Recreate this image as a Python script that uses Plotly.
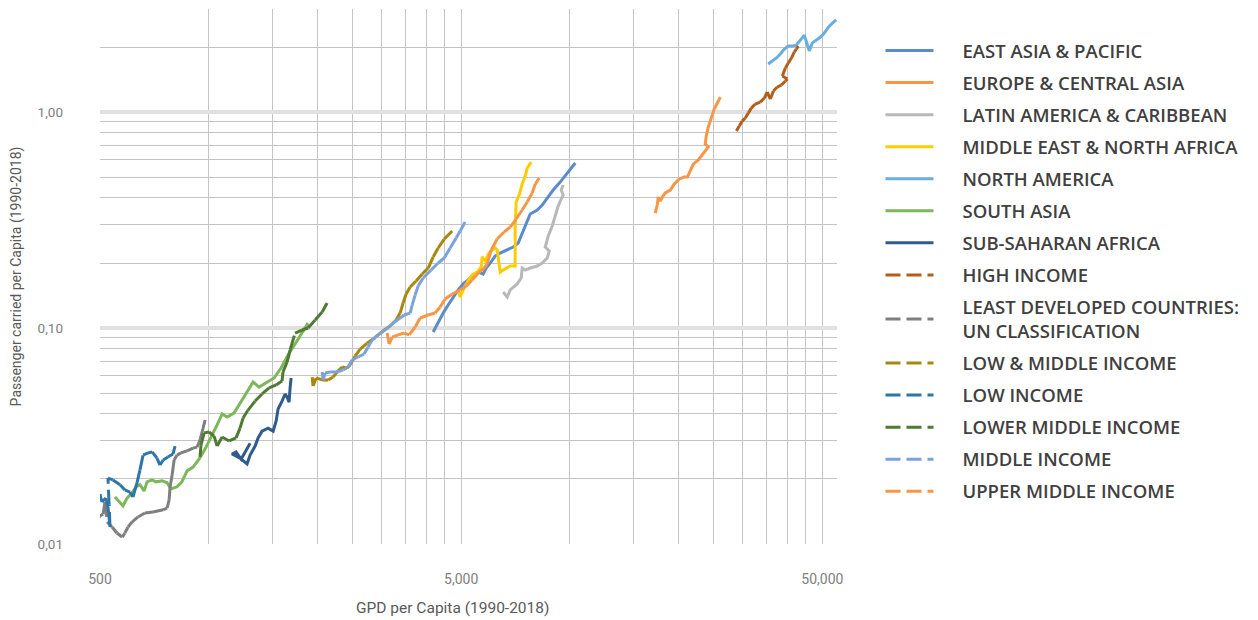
import math
import plotly.graph_objects as go

# ---------------- data ----------------
NAMES = [
    "EAST ASIA & PACIFIC", "EUROPE & CENTRAL ASIA", "LATIN AMERICA & CARIBBEAN",
    "MIDDLE EAST & NORTH AFRICA", "NORTH AMERICA", "SOUTH ASIA", "SUB-SAHARAN AFRICA",
    "HIGH INCOME", "LEAST DEVELOPED COUNTRIES:<br>UN CLASSIFICATION", "LOW & MIDDLE INCOME",
    "LOW INCOME", "LOWER MIDDLE INCOME", "MIDDLE INCOME", "UPPER MIDDLE INCOME",
]
COLORS = ["#5B8BCB", "#F79646", "#B8B8B8", "#FFCC00", "#6AAEE0", "#7DB75B", "#2F5B8F",
          "#B05E1A", "#7F7F7F", "#A8870E", "#2E75A8", "#4E7A33", "#7BA2DA", "#F79646"]
DASHED = [False] * 7 + [True] * 7

EAP_X = [4182, 4318, 4459, 4602, 4751, 4905, 5064, 5228, 5398, 5573, 5753, 5865, 6016, 6211,
         6412, 6705, 6966, 7192, 7378, 7568, 7765, 8120, 8384, 8655, 8991, 9400, 9830, 10350]
EAP_Y = [0.0958, 0.1066, 0.1173, 0.1278, 0.1391, 0.150, 0.160, 0.1668, 0.176, 0.1816, 0.1778,
         0.1896, 0.200, 0.2154, 0.2224, 0.2297, 0.2371, 0.2474, 0.2754, 0.3062, 0.3372, 0.3518,
         0.371, 0.3996, 0.4355, 0.474, 0.522, 0.5806]

ECA_X = [17230, 17450, 17570, 17800, 18030, 18370, 18970, 19450, 20090, 20740, 21150, 21550,
         21960, 22680, 23400, 24160, 23700, 23850, 24160, 24620, 25100, 25600, 26100]
ECA_Y = [0.3405, 0.371, 0.404, 0.387, 0.404, 0.422, 0.435, 0.464, 0.490, 0.500, 0.500, 0.539,
         0.574, 0.600, 0.639, 0.689, 0.711, 0.774, 0.852, 0.948, 1.032, 1.101, 1.173]

LAC_X = [6536, 6705, 6836, 7010, 7145, 7330, 7378, 7520, 7765, 8120, 8384, 8655, 8766, 8545,
         8710, 8935, 9106, 9280, 9461, 9582, 9461, 9582]
LAC_Y = [0.1468, 0.1391, 0.150, 0.1548, 0.160, 0.1704, 0.1896, 0.1856, 0.1896, 0.1936, 0.200,
         0.2109, 0.2272, 0.2371, 0.2667, 0.2966, 0.330, 0.367, 0.3956, 0.4127, 0.4355, 0.4593]

MENA_X = [4905, 4968, 5064, 5161, 5260, 5364, 5538, 5680, 5717, 5830, 5942, 6094, 6211, 6290,
          6412, 6536, 6705, 6836, 7055, 7055, 7055, 7100, 7238, 7378, 7520, 7617, 7815]
MENA_Y = [0.150, 0.1391, 0.150, 0.160, 0.1686, 0.176, 0.1816, 0.1916, 0.2132, 0.2043, 0.2201,
          0.2297, 0.2346, 0.2297, 0.1816, 0.1856, 0.1896, 0.1936, 0.1936, 0.2297, 0.2903, 0.383,
          0.4127, 0.464, 0.5055, 0.5504, 0.5867]

NA_X = [35400, 36350, 37300, 38250, 39240, 40250, 41300, 42360, 43450, 44570, 45400, 46000,
        46900, 48100, 49350, 50650, 51950, 53300, 54650]
NA_Y = [1.67, 1.72, 1.78, 1.856, 1.957, 2.02, 2.02, 2.04, 2.15, 2.27, 2.06, 1.92, 2.09, 2.15,
        2.22, 2.32, 2.47, 2.58, 2.67]

SA_X = [550, 579, 594, 613, 629, 645, 662, 675, 697, 715, 743, 767, 786, 817, 843, 871, 905,
        940, 977, 1021, 1055, 1089, 1124, 1175, 1237, 1285, 1327, 1378, 1451, 1517, 1586, 1658,
        1734, 1813, 1884]
SA_Y = [0.0165, 0.0150, 0.0163, 0.0172, 0.0184, 0.0188, 0.0176, 0.0194, 0.0198, 0.0194, 0.0196,
        0.0192, 0.0180, 0.0184, 0.0194, 0.0218, 0.0227, 0.0247, 0.0275, 0.0316, 0.0356, 0.0400,
        0.0387, 0.0404, 0.0464, 0.0516, 0.0562, 0.0533, 0.0562, 0.0587, 0.0653, 0.0750, 0.0843,
        0.0948, 0.1054]

SSA_X = [1302, 1261, 1229, 1190, 1160, 1221, 1277, 1302, 1344, 1370, 1405, 1460, 1508, 1537,
         1556, 1596, 1627, 1648, 1669, 1680, 1691]
SSA_Y = [0.0293, 0.0267, 0.0247, 0.0267, 0.0261, 0.0250, 0.0235, 0.0258, 0.0284, 0.0310, 0.0333,
         0.0344, 0.0333, 0.0371, 0.0422, 0.0459, 0.0495, 0.0479, 0.0454, 0.0528, 0.0587]

HI_X = [28900, 29450, 30000, 30600, 31200, 31800, 32600, 33650, 34550, 35200, 35900, 36600,
        37500, 38500, 39500, 40000, 38750, 39500, 40250, 41050, 41800, 42350, 42900]
HI_Y = [0.817, 0.861, 0.908, 0.938, 0.989, 1.043, 1.089, 1.112, 1.161, 1.238, 1.149, 1.251,
        1.305, 1.334, 1.391, 1.422, 1.468, 1.598, 1.686, 1.778, 1.896, 1.957, 2.02]

LDC_X = [469, 478, 490, 500, 510, 516, 523, 540, 557, 576, 586, 598, 613, 637, 666, 701, 748,
         767, 777, 781, 792, 802, 817, 838, 871, 905, 928, 946, 959, 977]
LDC_Y = [0.01406, 0.01334, 0.01292, 0.01348, 0.01377, 0.01565, 0.01264, 0.01199, 0.01124,
         0.01077, 0.01124, 0.01199, 0.01264, 0.01334, 0.01391, 0.01406, 0.0144, 0.01468, 0.0160,
         0.01816, 0.0209, 0.0245, 0.0258, 0.0264, 0.0270, 0.0278, 0.0281, 0.0303, 0.0330, 0.0375]

LMY_X = [1934, 1945, 1983, 2074, 2141, 2210, 2282, 2341, 2417, 2464, 2543, 2626, 2746, 2852,
         2945, 3061, 3180, 3303, 3388, 3453, 3520, 3612, 3752, 3899, 4051, 4182, 4318, 4487, 4722]
LMY_Y = [0.0593, 0.0539, 0.0587, 0.0574, 0.0574, 0.0593, 0.0633, 0.0660, 0.0653, 0.0675, 0.0742,
         0.0799, 0.0852, 0.0889, 0.0929, 0.0979, 0.1022, 0.1090, 0.1173, 0.1305, 0.1437, 0.1548,
         0.1651, 0.1778, 0.1896, 0.2132, 0.2346, 0.2582, 0.2812]

LI_X = [500, 506, 519, 526, 533, 530, 526, 543, 568, 586, 605, 617, 633, 645, 658, 679, 697, 719,
        733, 748, 771, 796, 807]
LI_Y = [0.01704, 0.01565, 0.01633, 0.01484, 0.01199, 0.0152, 0.0202, 0.0198, 0.0188, 0.0178,
        0.0174, 0.0165, 0.0192, 0.0220, 0.0258, 0.0264, 0.0267, 0.0250, 0.0232, 0.0245, 0.0253,
        0.0261, 0.0284]

LWM_X = [946, 952, 971, 1002, 1035, 1055, 1089, 1139, 1190, 1221, 1245, 1285, 1344, 1405, 1470,
         1537, 1596, 1606, 1648, 1680, 1734, 1813, 1884, 1971, 2061, 2127]
LWM_Y = [0.0253, 0.0287, 0.0327, 0.0330, 0.0316, 0.0284, 0.0313, 0.0300, 0.0310, 0.0344, 0.0383,
         0.0417, 0.0459, 0.0495, 0.0528, 0.0545, 0.0568, 0.0626, 0.0696, 0.0791, 0.0948, 0.0979,
         0.1000, 0.1090, 0.1186, 0.1305]

MI_X = [2061, 2074, 2100, 2168, 2268, 2356, 2432, 2495, 2592, 2693, 2763, 2835, 2945, 3099, 3241,
        3388, 3476, 3612, 3658, 3729, 3800, 3924, 4129, 4318, 4487, 4661, 4843, 4968, 5128]
MI_Y = [0.0626, 0.0574, 0.0619, 0.0626, 0.0626, 0.0640, 0.0660, 0.0711, 0.0734, 0.0758, 0.0817,
        0.0880, 0.0929, 0.0989, 0.1054, 0.1112, 0.1149, 0.1173, 0.1278, 0.1421, 0.1564, 0.1704,
        0.1856, 0.2000, 0.2109, 0.2346, 0.2611, 0.2812, 0.3095]

UMI_X = [3119, 3159, 3220, 3345, 3476, 3589, 3729, 3850, 4051, 4236, 4373, 4515, 4722, 4968, 5161,
         5364, 5573, 5790, 5902, 6055, 6290, 6576, 6836, 7100, 7378, 7617, 7865, 8017, 8225]
UMI_Y = [0.0948, 0.0843, 0.0908, 0.0929, 0.0948, 0.0929, 0.1011, 0.1112, 0.1149, 0.1173, 0.1251,
         0.1362, 0.1437, 0.1500, 0.1564, 0.1668, 0.1798, 0.1896, 0.1978, 0.2297, 0.2582, 0.2783,
         0.2935, 0.3196, 0.3518, 0.3830, 0.4217, 0.4640, 0.4950]

SERIES_X = [EAP_X, ECA_X, LAC_X, MENA_X, NA_X, SA_X, SSA_X, HI_X, LDC_X, LMY_X, LI_X, LWM_X, MI_X, UMI_X]
SERIES_Y = [EAP_Y, ECA_Y, LAC_Y, MENA_Y, NA_Y, SA_Y, SSA_Y, HI_Y, LDC_Y, LMY_Y, LI_Y, LWM_Y, MI_Y, UMI_Y]

# axes
X_MIN, X_MAX = 500, 54900
Y_MIN, Y_MAX = 0.01, 3.0
X_TICKS = [500, 5000, 50000]
X_TICKTEXT = ["500", "5,000", "50,000"]
Y_TICKS = [0.01, 0.1, 1.0]
Y_TICKTEXT = ["0,01", "0,10", "1,00"]
X_GRID = [1000, 1500, 2000, 2500, 3000, 3500, 4000, 4500,
          10000, 15000, 20000, 25000, 30000, 35000, 40000, 45000]
Y_GRID = [0.01, 0.02, 0.03, 0.04, 0.05, 0.06, 0.07, 0.08, 0.09,
          0.2, 0.3, 0.4, 0.5, 0.6, 0.7, 0.8, 0.9, 2.0, 3.0]
Y_BAND = [0.1, 1.0]
X_TITLE = "GPD per Capita (1990-2018)"
Y_TITLE = "Passenger carried per Capita (1990-2018)"

GRID_COLOR = "#C4C4C4"
BAND_COLOR = "#E0E0E0"
FONT = "Roboto"
LEGEND_FONT = "Open Sans"
PAD = "\u00a0" * 5  # visual gap between legend symbol and label


def per_segment(xs, ys):
    """Each segment is its own sub-path so the dash pattern restarts on every segment."""
    sx, sy = [], []
    for i in range(len(xs) - 1):
        sx += [xs[i], xs[i + 1], None]
        sy += [ys[i], ys[i + 1], None]
    return sx, sy


fig = go.Figure()

for yv in Y_BAND:
    fig.add_trace(go.Scatter(x=[X_MIN, X_MAX], y=[yv, yv], mode="lines",
                             line=dict(color=BAND_COLOR, width=4),
                             showlegend=False, hoverinfo="skip"))

for i, name in enumerate(NAMES):
    xs, ys = SERIES_X[i], SERIES_Y[i]
    if DASHED[i]:
        xs, ys = per_segment(xs, ys)
        dash = "15px,6px"
    else:
        dash = "solid"
    label = "<br>".join(PAD + part for part in name.split("<br>"))
    fig.add_trace(go.Scatter(
        x=xs, y=ys, mode="lines", name=label, legendgroup="g%d" % i,
        connectgaps=False,
        line=dict(color=COLORS[i], width=3, dash=dash),
    ))

# the page body adds an 8px offset, so the figure is 8px smaller on each axis
fig.update_layout(
    width=1250, height=612,
    margin=dict(l=92, r=421, t=1, b=76, autoexpand=False),
    plot_bgcolor="white", paper_bgcolor="white",
    font=dict(family=FONT),
    legend=dict(
        x=1.059, y=0.957, xanchor="left", yanchor="top",
        font=dict(family=LEGEND_FONT, size=18.5, color="#404040", weight=600),
        itemwidth=48, tracegroupgap=5, bgcolor="rgba(0,0,0,0)",
    ),
    showlegend=True,
    annotations=[dict(
        text=X_TITLE, xref="paper", yref="paper", x=0.478, y=0,
        xanchor="center", yanchor="middle", yshift=-64, showarrow=False,
        font=dict(family=FONT, size=15.5, color="#595959"),
    )],
)

fig.update_xaxes(
    type="log", range=[math.log10(X_MIN), math.log10(X_MAX)], automargin=False,
    tickmode="array", tickvals=X_TICKS, ticktext=X_TICKTEXT,
    showgrid=True, gridcolor=GRID_COLOR, gridwidth=1,
    minor=dict(tickmode="array", tickvals=X_GRID, showgrid=True,
               gridcolor=GRID_COLOR, gridwidth=1, ticks=""),
    ticks="", showline=False, zeroline=False,
    ticklabelstandoff=25,
    tickfont=dict(family=FONT, size=14, color="#808080"),
)
fig.update_yaxes(
    type="log", range=[math.log10(Y_MIN), math.log10(Y_MAX)], automargin=False,
    tickmode="array", tickvals=Y_TICKS, ticktext=Y_TICKTEXT,
    showgrid=False,
    minor=dict(tickmode="array", tickvals=Y_GRID, showgrid=True,
               gridcolor=GRID_COLOR, gridwidth=1, ticks=""),
    ticks="", showline=False, zeroline=False,
    ticklabelstandoff=36,
    tickfont=dict(family=FONT, size=13.5, color="#808080"),
    title=dict(text=Y_TITLE, standoff=14,
               font=dict(family=FONT, size=14, color="#595959")),
)

fig.write_html("out.html")
